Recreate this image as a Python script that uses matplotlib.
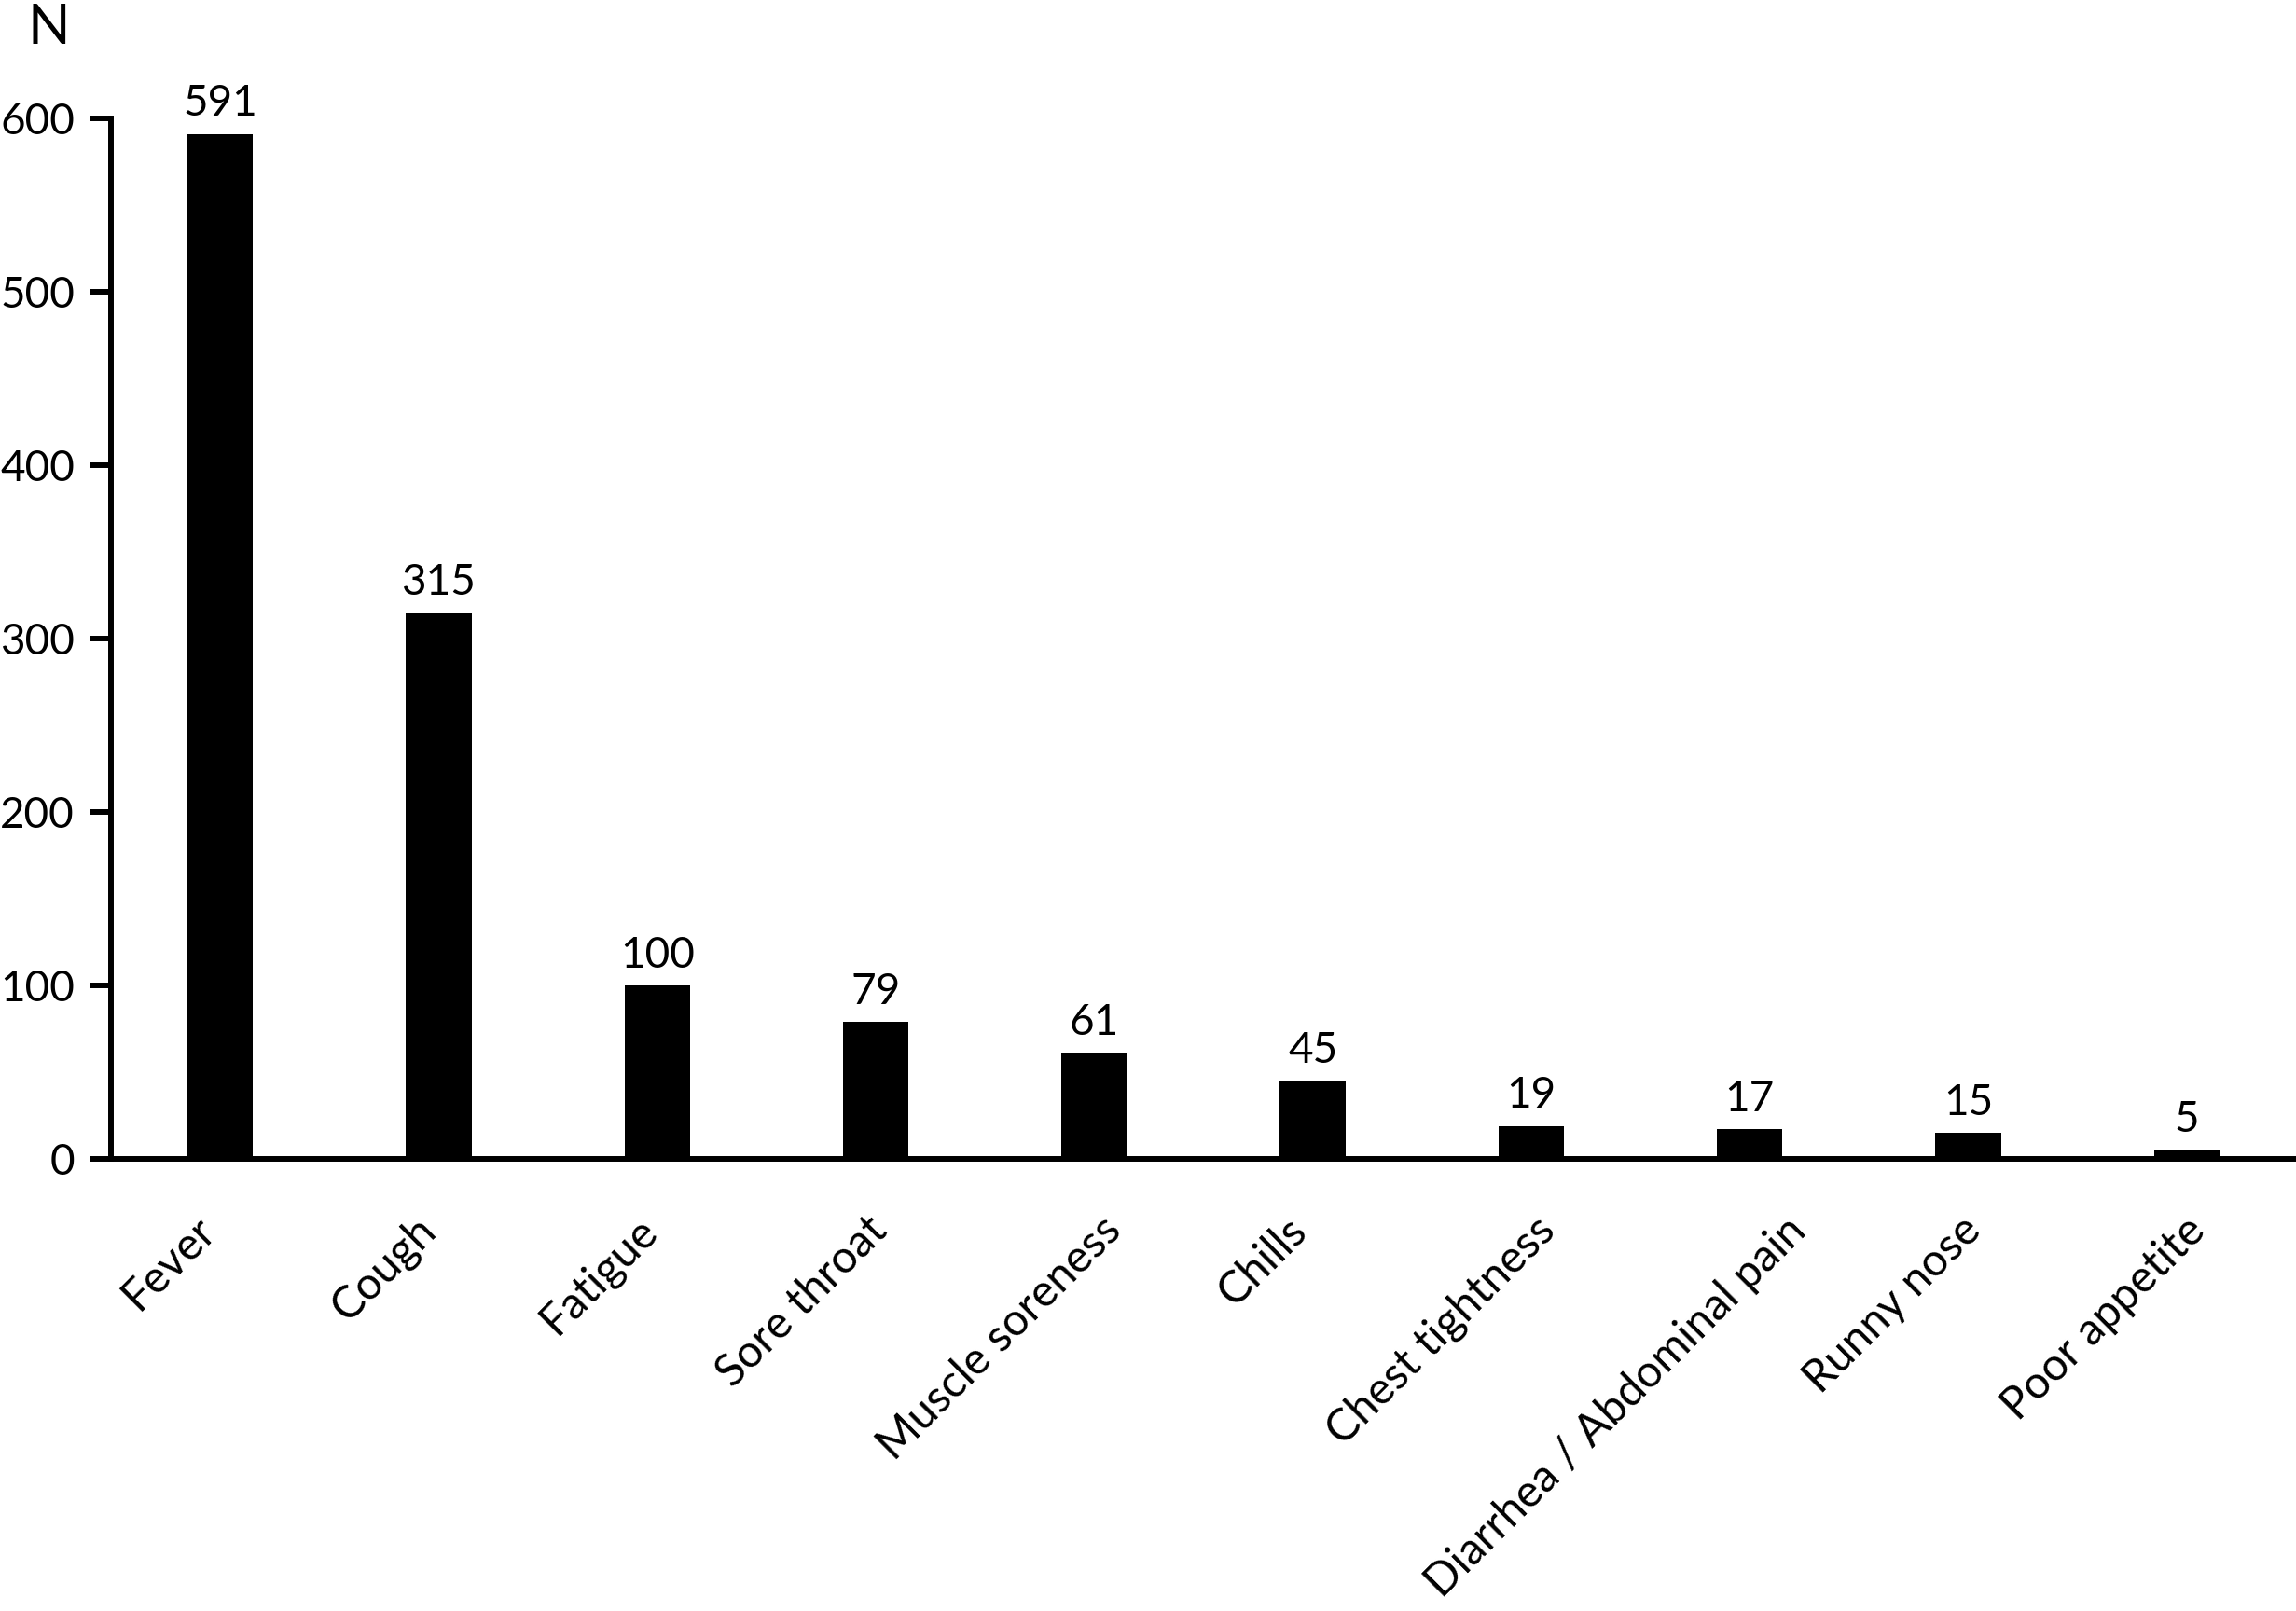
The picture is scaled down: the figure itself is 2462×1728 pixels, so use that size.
import matplotlib
matplotlib.use("Agg")
import matplotlib.pyplot as plt
from matplotlib.transforms import ScaledTranslation

# symptom counts
symptoms = ["Fever", "Cough", "Fatigue", "Sore throat", "Muscle soreness",
            "Chills", "Chest tightness", "Diarrhea / Abdominal pain",
            "Runny nose", "Poor appetite"]
counts = [591, 315, 100, 79, 61, 45, 19, 17, 15, 5]
yticks = [0, 100, 200, 300, 400, 500, 600]

plt.rcParams['font.family'] = ['Lato', 'DejaVu Sans']
FS = 33
LW = 4.3

fig = plt.figure(figsize=(24.62, 17.28), dpi=100)
ax = fig.add_axes([0.0483, 0.2807, 0.9517, 0.6458])

xs = list(range(len(symptoms)))
ax.bar(xs, counts, width=0.30, color="black", zorder=2)

for x, v in zip(xs, counts):
    ax.annotate(str(v), (x, v), xytext=(0, 14), textcoords="offset points",
                ha="center", va="baseline", fontsize=FS, clip_on=False)

ax.set_xlim(-0.5, len(symptoms) - 0.5)
ax.set_ylim(0, 600)
ax.set_yticks(yticks)
ax.set_xticks([])

for s in ["top", "right"]:
    ax.spines[s].set_visible(False)
ax.spines["left"].set_linewidth(LW)
ax.spines["bottom"].set_linewidth(LW)
ax.tick_params(axis="y", direction="out", length=16, width=LW, pad=12,
               labelsize=FS)

fig.text(0.0211, 0.9728, "N", ha="center", va="baseline", fontsize=43)

# rotated category labels
labels = []
for x, lab in zip(xs, symptoms):
    t = ax.text(x, 0, lab, rotation=45, ha="right", va="top", fontsize=34.5,
                transform=ax.get_xaxis_transform(), clip_on=False)
    labels.append(t)

fig.canvas.draw()
r = fig.canvas.get_renderer()
for t in labels:
    w = t.get_window_extent(r).width
    dx = -22 + 0.214 * w
    t.set_transform(ax.get_xaxis_transform() +
                    ScaledTranslation(dx / 100, -54 / 100, fig.dpi_scale_trans))

fig.savefig("out.png", dpi=100, facecolor="white")
